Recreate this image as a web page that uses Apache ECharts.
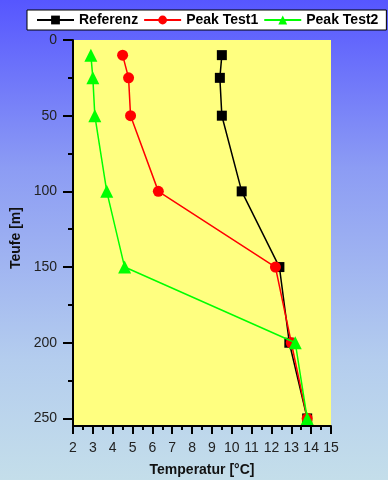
<!DOCTYPE html>
<html><head><meta charset="utf-8">
<script src="https://cdn.jsdelivr.net/npm/echarts@6/dist/echarts.min.js"></script>
<style>
html,body{margin:0;padding:0;}
#c{width:388px;height:480px;background:linear-gradient(to bottom,#5656ff 0%,#8c9cf4 35%,#b4cdee 75%,#c4deea 100%);}
</style></head>
<body><div id="c"></div>
<script>
const depths = [10, 25, 50, 100, 150, 200, 250];
const referenz = [9.5, 9.4, 9.5, 10.5, 12.4, 12.9, 13.8];
const peakTest1 = [4.5, 4.8, 4.9, 6.3, 12.2, 13.0, 13.8];
const peakTest2 = [2.9, 3.0, 3.1, 3.7, 4.6, 13.2, 13.8];
const seriesNames = ['Referenz', 'Peak Test1', 'Peak Test2'];
const yMajor = [0, 50, 100, 150, 200, 250];
const yMinor = [0, 25, 50, 75, 100, 125, 150, 175, 200, 225, 250];

const pairs = arr => arr.map((t, i) => [t, depths[i]]);
const font = 'Liberation Sans, Arial, sans-serif';
const chart = echarts.init(document.getElementById('c'), null, {renderer: 'canvas'});
chart.setOption({
  animation: false,
  backgroundColor: 'transparent',
  textStyle: {fontFamily: font},
  legend: {
    left: 27, top: 10, width: 380,
    backgroundColor: '#fff', borderColor: '#000', borderWidth: 1,
    padding: [3, 8, 3, 9],
    itemWidth: 37, itemHeight: 11, itemGap: 5,
    textStyle: {fontFamily: font, fontWeight: 'bold', fontSize: 14, color: '#000'},
    data: seriesNames
  },
  grid: {left: 73, right: 57, top: 40, bottom: 54, outerBoundsMode: 'none', containLabel: false,
         show: true, backgroundColor: '#ffff80', borderWidth: 0},
  xAxis: {
    type: 'value', min: 2, max: 15, interval: 1,
    name: 'Temperatur [°C]', nameLocation: 'middle', nameGap: 37,
    nameTextStyle: {fontFamily: font, fontWeight: 'bold', fontSize: 14, color: '#111'},
    axisLine: {show: true, onZero: false, lineStyle: {color: '#000', width: 2}},
    axisTick: {show: true, length: 8, lineStyle: {color: '#000', width: 2}},
    minorTick: {show: true, splitNumber: 2, length: 4, lineStyle: {color: '#000', width: 2}},
    axisLabel: {fontFamily: font, fontSize: 14, color: '#222', margin: 15},
    splitLine: {show: false}
  },
  yAxis: [{
    type: 'value', min: 0, max: 255, inverse: true,
    name: 'Teufe [m]', nameLocation: 'middle', nameGap: 42,
    nameTextStyle: {fontFamily: font, fontWeight: 'bold', fontSize: 14, color: '#111', padding: [0, 10, 0, 0]},
    axisLine: {show: true, onZero: false, lineStyle: {color: '#000', width: 2}},
    axisTick: {show: true, length: 10, customValues: yMajor, lineStyle: {color: '#000', width: 2}},
    axisLabel: {fontFamily: font, fontSize: 14, color: '#222', margin: 16, customValues: yMajor},
    splitLine: {show: false}
  }, {
    type: 'value', min: 0, max: 255, inverse: true, position: 'left',
    axisLine: {show: false},
    axisTick: {show: true, length: 5, customValues: yMinor, lineStyle: {color: '#000', width: 2}},
    axisLabel: {show: false},
    splitLine: {show: false}
  }],
  series: [
    {name: seriesNames[0], type: 'line', data: pairs(referenz), symbol: 'rect', symbolSize: 10,
     itemStyle: {color: '#000'}, lineStyle: {color: '#000', width: 1.5}, z: 3},
    {name: seriesNames[1], type: 'line', data: pairs(peakTest1), symbol: 'circle', symbolSize: 11,
     itemStyle: {color: '#ff0000'}, lineStyle: {color: '#ff0000', width: 1.5}, z: 4},
    {name: seriesNames[2], type: 'line', data: pairs(peakTest2), symbol: 'triangle', symbolSize: 13,
     itemStyle: {color: '#00ff00'}, lineStyle: {color: '#00ff00', width: 1.5}, z: 5}
  ]
});
</script></body></html>
